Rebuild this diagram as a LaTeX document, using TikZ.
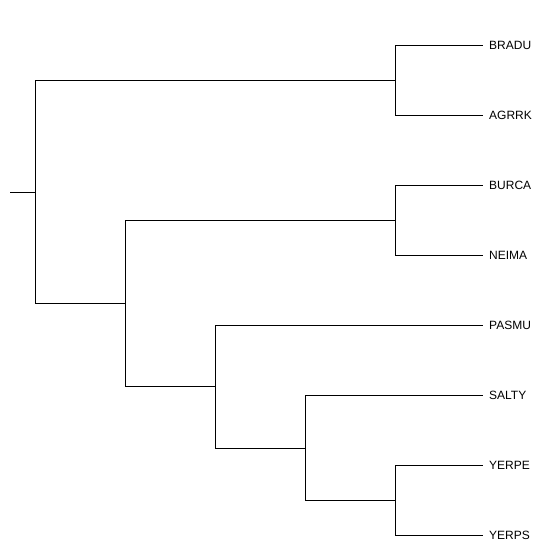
\documentclass[tikz,border=0pt]{standalone}
\usepackage{fontspec}
\setmainfont{Liberation Sans}
\begin{document}
\begin{tikzpicture}[x=1pt,y=-1pt,
  branch/.style={line width=1pt, line cap=rect},
  leaf/.style={anchor=west, inner xsep=7pt, inner ysep=0pt, font=\fontsize{12}{14}\selectfont}]
\useasboundingbox[fill=white] (0,0) rectangle (546,549);
% leaf labels
\node[leaf] (bradu) at (482,45) {BRADU};
\node[leaf] (agrrk) at (482,115) {AGRRK};
\node[leaf] (burca) at (482,185) {BURCA};
\node[leaf] (neima) at (482,255) {NEIMA};
\node[leaf] (pasmu) at (482,325) {PASMU};
\node[leaf] (salty) at (482,395) {SALTY};
\node[leaf] (yerpe) at (482,465) {YERPE};
\node[leaf] (yerps) at (482,535) {YERPS};
% internal nodes
\coordinate (stub) at (10,192);
\coordinate (R) at (35.5,192);
\coordinate (A) at (395.5,80);
\coordinate (F) at (125.5,303);
\coordinate (B) at (395.5,220);
\coordinate (C) at (215.5,386);
\coordinate (D) at (305.5,448);
\coordinate (E) at (395.5,500);
% branches
\draw[branch] (stub) -- (R);
\draw[branch] (R) |- (A);
\draw[branch] (R) |- (F);
\draw[branch] (A) |- (bradu.west);
\draw[branch] (A) |- (agrrk.west);
\draw[branch] (F) |- (B);
\draw[branch] (F) |- (C);
\draw[branch] (B) |- (burca.west);
\draw[branch] (B) |- (neima.west);
\draw[branch] (C) |- (pasmu.west);
\draw[branch] (C) |- (D);
\draw[branch] (D) |- (salty.west);
\draw[branch] (D) |- (E);
\draw[branch] (E) |- (yerpe.west);
\draw[branch] (E) |- (yerps.west);
\end{tikzpicture}
\end{document}
